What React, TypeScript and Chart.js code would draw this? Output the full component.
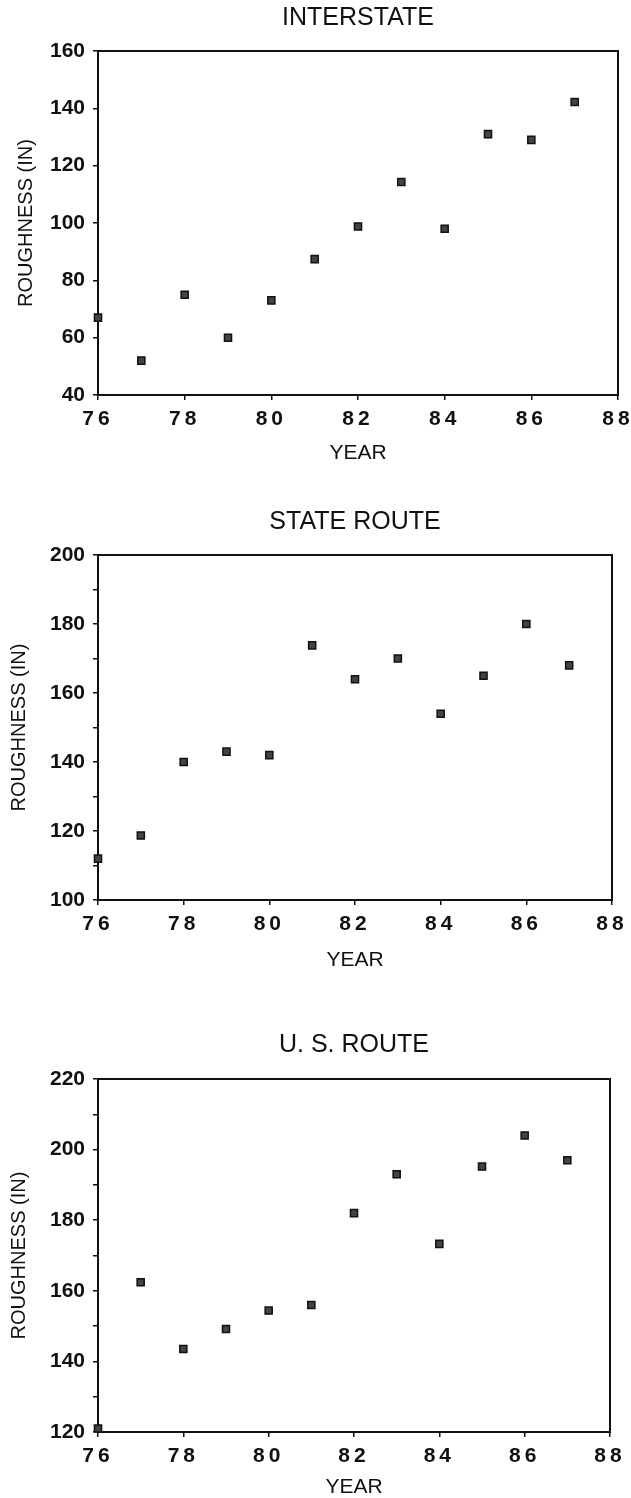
import React, { useEffect, useRef } from 'react';
import { Chart, registerables } from 'chart.js';

Chart.register(...registerables);

// ---- data ----
const years = [76, 77, 78, 79, 80, 81, 82, 83, 84, 85, 86, 87];
const interstate = [67, 52, 75, 60, 73, 87.4, 98.8, 114.3, 98, 131, 129, 142.2];
const stateRoute = [112, 118.7, 140, 143, 142, 173.8, 164, 170, 154, 165, 180, 168];
const usRoute = [121, 162.4, 143.5, 149.2, 154.4, 156, 182, 193, 173.3, 195.2, 204, 197];
const chartTitles = ['INTERSTATE', 'STATE ROUTE', 'U. S. ROUTE'];
const xAxisTitle = 'YEAR';
const yAxisTitle = 'ROUGHNESS (IN)';
const xTicks = [76, 78, 80, 82, 84, 86, 88];
const yMins = [40, 100, 120];
const yMaxs = [160, 200, 220];
const yMinorSteps = [20, 10, 10];
const yLabelStep = 20;

// ---- layout (sizes / positions only) ----
const panels = [
  { top: 0, height: 480, plotBottom: 395, titlePadTop: 3, titlePadBottom: 18, rightPad: 13, yTitlePad: 14, xTitlePad: 16.5 },
  { top: 480, height: 500, plotBottom: 420, titlePadTop: 27, titlePadBottom: 18, rightPad: 19, yTitlePad: 7, xTitlePad: 9.5 },
  { top: 980, height: 518, plotBottom: 452, titlePadTop: 50, titlePadBottom: 19, rightPad: 21, yTitlePad: 7, xTitlePad: 0 },
];

const INK = '#111111';
const FONT = '"Liberation Sans", Arial, Helvetica, sans-serif';

const framePlugin = {
  id: 'frameBox',
  beforeDatasetsDraw(chart: any) {
    const { ctx, chartArea } = chart;
    ctx.save();
    ctx.strokeStyle = INK;
    ctx.lineWidth = 2;
    ctx.strokeRect(chartArea.left, chartArea.top, chartArea.right - chartArea.left, chartArea.bottom - chartArea.top);
    ctx.restore();
  },
};

const spacingPlugin = {
  id: 'xTickSpacing',
  afterDatasetsDraw(chart: any) {
    (chart.ctx as any).letterSpacing = '4px';
  },
  afterDraw(chart: any) {
    (chart.ctx as any).letterSpacing = '0px';
  },
};

function Panel({ index, values }: { index: number; values: number[] }) {
  const ref = useRef<HTMLCanvasElement | null>(null);
  const p = panels[index];
  useEffect(() => {
    if (!ref.current) return;
    const chart = new Chart(ref.current, {
      type: 'scatter',
      data: {
        datasets: [
          {
            data: years.map((y, i) => ({ x: y, y: values[i] })),
            pointStyle: 'rect',
            pointRadius: 5,
            backgroundColor: '#444444',
            borderColor: INK,
            borderWidth: 1.5,
            clip: false as any,
          },
        ],
      },
      options: {
        animation: false,
        responsive: false,
        layout: { padding: { left: 0, right: p.rightPad, top: 0, bottom: 0 } },
        plugins: {
          legend: { display: false },
          tooltip: { enabled: false },
          title: {
            display: true,
            text: chartTitles[index],
            fullSize: false,
            color: INK,
            font: { family: FONT, size: 25, weight: 'normal', lineHeight: 1.2 },
            padding: { top: p.titlePadTop, bottom: p.titlePadBottom },
          },
        },
        scales: {
          x: {
            type: 'linear',
            min: xTicks[0],
            max: xTicks[xTicks.length - 1],
            afterBuildTicks: (scale: any) => {
              scale.ticks = xTicks.map((v) => ({ value: v }));
            },
            afterFit: (scale: any) => {
              scale.height = p.height - p.plotBottom;
              scale.paddingLeft = 0;
              scale.paddingRight = 0;
            },
            ticks: {
              z: 1,
              color: INK,
              padding: 7,
              autoSkip: false,
              maxRotation: 0,
              font: { family: FONT, size: 21, weight: 'bold' },
              callback: (v: any) => String(v),
            },
            grid: { drawOnChartArea: false, drawTicks: true, tickLength: 5, color: INK, lineWidth: 1.5 },
            border: { display: true, color: INK, width: 2 },
            title: {
              display: true,
              text: xAxisTitle,
              color: INK,
              font: { family: FONT, size: 21, weight: 'normal', lineHeight: 1 },
              padding: { top: 0, bottom: p.xTitlePad },
            },
          },
          y: {
            type: 'linear',
            min: yMins[index],
            max: yMaxs[index],
            afterFit: (scale: any) => {
              scale.width = 98;
              scale.paddingTop = 0;
              scale.paddingBottom = 0;
            },
            ticks: {
              stepSize: yMinorSteps[index],
              color: INK,
              padding: 8,
              autoSkip: false,
              font: { family: FONT, size: 21, weight: 'bold' },
              callback: (v: any) => (Number(v) % yLabelStep === 0 ? String(v) : ''),
            },
            grid: { drawOnChartArea: false, drawTicks: true, tickLength: 5, color: INK, lineWidth: 1.5 },
            border: { display: true, color: INK, width: 2 },
            title: {
              display: true,
              text: yAxisTitle,
              color: INK,
              font: { family: FONT, size: 20, weight: 'normal', lineHeight: 1.2 },
              padding: { top: p.yTitlePad, bottom: 0 },
            },
          },
        },
      },
      plugins: [framePlugin, spacingPlugin],
    });
    return () => chart.destroy();
  }, [index, values]);
  return (
    <canvas
      ref={ref}
      width={631}
      height={p.height}
      style={{ position: 'absolute', left: 0, top: p.top, width: 631, height: p.height, display: 'block' }}
    />
  );
}

export default function App() {
  return (
    <div style={{ position: 'absolute', left: 0, top: 0, width: 631, height: 1498, overflow: 'hidden', background: '#ffffff' }}>
      <Panel index={0} values={interstate} />
      <Panel index={1} values={stateRoute} />
      <Panel index={2} values={usRoute} />
    </div>
  );
}
